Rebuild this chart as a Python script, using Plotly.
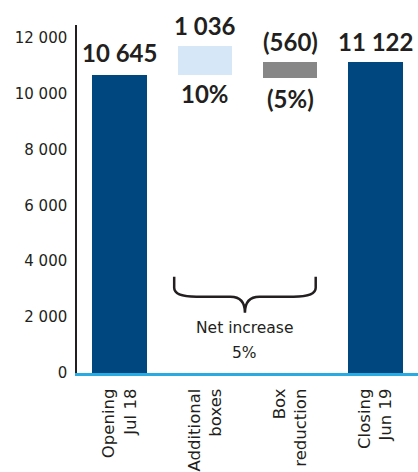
import plotly.graph_objects as go

categories = ["Opening<br>Jul 18", "Additional<br>boxes", "Box<br>reduction", "Closing<br>Jun 19"]
opening = 10645
additional = 1036
reduction = 560
closing = 11122
value_labels = ["10 645", "1 036", "(560)", "11 122"]
pct_labels = ["", "10%", "(5%)", ""]
net_lines = ["Net increase", "5%"]
y_tickvals = [0, 2000, 4000, 6000, 8000, 10000, 12000]
y_ticktext = ["0", "2 000", "4 000", "6 000", "8 000", "10 000", "12 000"]

DARK = "#00467f"
LIGHT = "#d6e7f8"
GREY = "#878787"
CYAN = "#29abe2"
TXT = "#231f20"
BOLD_FONT = "Lato"
REG_FONT = "DejaVu Sans"

xs = list(range(len(categories)))
heights = [opening, additional, reduction, closing]
bases = [0, opening, closing - reduction, 0]
colors = [DARK, LIGHT, GREY, DARK]

fig = go.Figure()
fig.add_trace(go.Bar(x=xs, y=heights, base=bases, marker=dict(color=colors, line=dict(width=0)),
                     width=0.64, hoverinfo="skip"))

tops = [b + h for b, h in zip(bases, heights)]
val_shift = [23, 21, 21, 21]
for i in xs:
    fig.add_annotation(x=i, y=tops[i], text="<b>%s</b>" % value_labels[i], showarrow=False,
                       yanchor="middle", yshift=val_shift[i],
                       font=dict(family=BOLD_FONT, size=24, color=TXT))
pct_shift = [0, -18, -21, 0]
for i in xs:
    if pct_labels[i]:
        fig.add_annotation(x=i, y=bases[i], text="<b>%s</b>" % pct_labels[i], showarrow=False,
                           yanchor="middle", yshift=pct_shift[i],
                           font=dict(family=BOLD_FONT, size=24, color=TXT))

# brace
xl, xr, xc = 0.64, 2.30, 1.47
yt, yh, yp = 3445, 2730, 2158
path = (f"M {xl},{yt} L {xl},3050 Q {xl},{yh} {xl+0.26},{yh} L {xc-0.17},{yh} "
        f"Q {xc},{yh} {xc},{yp} Q {xc},{yh} {xc+0.17},{yh} L {xr-0.26},{yh} "
        f"Q {xr},{yh} {xr},3050 L {xr},{yt}")
fig.add_shape(type="path", path=path, xref="x", yref="y", line=dict(color=TXT, width=2.5))
for j, (line, yv) in enumerate(zip(net_lines, [1620, 720])):
    fig.add_annotation(x=xc, y=yv, text=line, showarrow=False, yanchor="middle",
                       font=dict(family=REG_FONT, size=15.5, color=TXT))

fig.update_layout(
    width=418, height=472,
    margin=dict(l=77, r=0, t=25, b=99),
    plot_bgcolor="white", paper_bgcolor="white",
    showlegend=False, bargap=0,
    font=dict(family=REG_FONT, color=TXT),
)
fig.update_xaxes(range=[-0.5, 3.5], tickvals=xs, ticktext=categories, tickangle=-90,
                 showgrid=False, zeroline=False, showline=True, linecolor=CYAN, linewidth=3,
                 ticks="", tickfont=dict(family=REG_FONT, size=16.5, color=TXT), ticklabelstandoff=6)
fig.update_yaxes(range=[0, 12450], tickvals=y_tickvals, ticktext=y_ticktext,
                 showgrid=False, zeroline=False, showline=True, linecolor=TXT, linewidth=1.5,
                 ticks="", tickfont=dict(family=REG_FONT, size=15, color=TXT), ticklabelstandoff=5)

fig.write_html("out.html", config={"displayModeBar": False},
               post_script="document.body.style.margin='0';document.body.style.overflow='hidden';")
